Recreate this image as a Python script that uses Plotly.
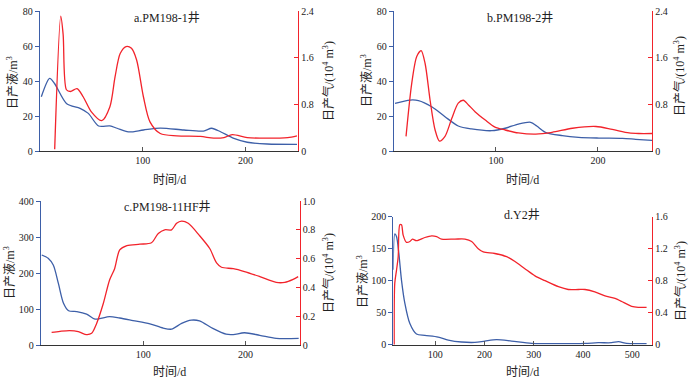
import plotly.graph_objects as go

# Panel a: PM198-1
a_liq_x = [1.3, 9.4, 14, 26, 39, 47, 57, 68, 75, 86, 100.6, 117, 140, 159, 167, 175.6, 188.6, 201.6, 221, 250]
a_liq_y = [31, 41.5, 38.7, 27, 24.4, 21.5, 14.3, 14.3, 13, 10.9, 12, 13.1, 12, 11.4, 13, 11, 7.2, 5, 4, 3.8]
a_gas_x = [14.3, 20.2, 22.5, 25.7, 29.6, 36, 42, 50, 60, 68, 73, 78, 83.7, 89, 94, 100.6, 107, 117, 133, 156, 169, 179, 187, 201.6, 221, 241, 250]
a_gas_y = [0.03, 2.31, 2.0, 1.05, 1.02, 1.07, 0.93, 0.67, 0.52, 0.76, 1.27, 1.67, 1.79, 1.76, 1.56, 0.93, 0.50, 0.30, 0.26, 0.25, 0.22, 0.23, 0.28, 0.23, 0.22, 0.23, 0.26]

# Panel b: PM198-2
b_liq_x = [1, 15.7, 24, 37, 50, 63, 76, 96, 109, 122, 134, 140, 148.5, 165, 181, 201, 224, 237, 253]
b_liq_y = [27.2, 29.1, 28.8, 25.3, 19.6, 14.3, 12.6, 11.6, 13, 15.4, 16.4, 14.3, 10.7, 8.8, 7.8, 7.4, 7.2, 6.7, 6.1]
b_gas_x = [11.8, 17.4, 22.3, 26.6, 30.5, 35.4, 40.3, 44.6, 50, 56.7, 63, 68, 73, 79.7, 89.5, 99, 109, 122, 139, 155, 175, 198, 214, 230.5, 240, 253]
b_gas_y = [0.25, 1.16, 1.62, 1.72, 1.50, 0.87, 0.36, 0.17, 0.25, 0.56, 0.82, 0.87, 0.79, 0.67, 0.53, 0.41, 0.36, 0.31, 0.29, 0.32, 0.39, 0.42, 0.37, 0.31, 0.30, 0.30]

# Panel c: PM198-11HF
c_liq_x = [0.7, 7, 12, 17, 22, 27, 35, 44.6, 52.8, 67, 77, 90, 106.5, 119.5, 127.7, 137.5, 147, 155, 168, 181, 188, 199, 214, 230, 252]
c_liq_y = [250, 241, 222, 171, 116, 95, 93, 86, 72, 79, 75, 68, 59, 47, 44, 60, 69, 67, 46, 30, 29, 34, 27, 18.5, 18.5]
c_gas_x = [10.4, 18.6, 28, 36.5, 44.6, 49.5, 54.4, 61, 67, 72, 77, 84, 96.7, 108, 114.7, 121, 127.7, 132.6, 137.5, 144, 155, 165, 171.7, 176.5, 188, 199, 214, 230, 238.4, 246.6, 251.5]
c_gas_y = [0.088, 0.095, 0.10, 0.093, 0.072, 0.081, 0.15, 0.29, 0.45, 0.53, 0.66, 0.69, 0.70, 0.71, 0.775, 0.80, 0.80, 0.845, 0.86, 0.845, 0.76, 0.67, 0.57, 0.54, 0.53, 0.51, 0.475, 0.435, 0.435, 0.456, 0.475]

# Panel d: Y2
d_liq_x = [14.7, 18.1, 21.5, 26.2, 31.6, 38.4, 48.6, 62, 79, 106, 126.6, 153.5, 180.6, 200.9, 224.5, 255, 296, 356.6, 404, 431, 458, 472, 488.6, 512, 529]
d_liq_y = [117, 173, 169, 143, 101, 65, 33, 16.7, 14.6, 12, 7.3, 4.2, 3.6, 5.7, 7.8, 5.7, 2.1, 1.6, 2.1, 3.1, 3.1, 4.7, 2.1, 1.6, 1.6]
d_gas_x = [16.8, 18, 21.5, 24.9, 28.3, 31.6, 35, 41.7, 48.6, 54, 62, 79, 93, 103, 113, 140, 160.5, 174, 187.4, 197.6, 221, 245, 262, 282, 302.5, 323, 350, 370, 390.5, 404, 424, 444.6, 465, 478.5, 498.7, 512, 529]
d_gas_y = [0, 0.77, 0.93, 1.1, 1.50, 1.50, 1.37, 1.28, 1.29, 1.32, 1.30, 1.34, 1.36, 1.35, 1.32, 1.32, 1.32, 1.29, 1.20, 1.16, 1.14, 1.10, 1.04, 0.95, 0.86, 0.80, 0.725, 0.69, 0.69, 0.69, 0.66, 0.61, 0.58, 0.54, 0.48, 0.467, 0.467]

titles = ["a.PM198-1井", "b.PM198-2井", "c.PM198-11HF井", "d.Y2井"]
left_ticks = [[0, 20, 40, 60, 80], [0, 20, 40, 60, 80], [0, 100, 200, 300, 400], [0, 50, 100, 150, 200]]
right_ticks = [[0, 0.8, 1.6, 2.4], [0, 0.8, 1.6, 2.4], [0, 0.2, 0.4, 0.6, 0.8, 1.0], [0, 0.4, 0.8, 1.2, 1.6]]
right_ticktext = [["0", "0.8", "1.6", "2.4"], ["0", "0.8", "1.6", "2.4"], ["0", "0.2", "0.4", "0.6", "0.8", "1.0"], ["0", "0.4", "0.8", "1.2", "1.6"]]
x_ticks = [[100, 200], [100, 200], [100, 200], [100, 200, 300, 400, 500]]
x_ranges = [[0, 251], [0, 253], [0, 253], [15, 540]]

W, H = 689, 379
BLUE = "#3d5fa8"
RED = "#f2232b"
FONT = "Liberation Serif, Noto Sans CJK SC, serif"
TXT = "#222"

# pixel boxes: (x0, x1, ytop, ybottom)
boxes = [(40, 298, 11, 151), (394, 652, 11, 151), (41, 299.7, 201, 345), (393.3, 652, 216.7, 344.7)]

data = [(a_liq_x, a_liq_y, a_gas_x, a_gas_y), (b_liq_x, b_liq_y, b_gas_x, b_gas_y),
        (c_liq_x, c_liq_y, c_gas_x, c_gas_y), (d_liq_x, d_liq_y, d_gas_x, d_gas_y)]

fig = go.Figure()
layout = {}
annotations = []
for i, (lx, ly, gx, gy) in enumerate(data):
    xa = f"x{'' if i == 0 else i + 1}"
    yl = f"y{'' if i == 0 else 2 * i + 1}"
    yr = f"y{2 * i + 2}"
    xname = f"xaxis{'' if i == 0 else i + 1}"
    ylname = f"yaxis{'' if i == 0 else 2 * i + 1}"
    yrname = f"yaxis{2 * i + 2}"
    x0, x1, yt, yb = boxes[i]
    fig.add_trace(go.Scatter(x=lx, y=ly, mode="lines", line=dict(color=BLUE, width=1.3, shape="spline", smoothing=0.8),
                             xaxis=xa, yaxis=yl, showlegend=False, hoverinfo="skip"))
    fig.add_trace(go.Scatter(x=gx, y=gy, mode="lines", line=dict(color=RED, width=1.3, shape="spline", smoothing=0.8),
                             xaxis=xa, yaxis=yr, showlegend=False, hoverinfo="skip"))
    layout[xname] = dict(domain=[x0 / W, x1 / W], range=x_ranges[i], anchor=yl, showgrid=False, zeroline=False,
                         showline=True, linecolor="#333", linewidth=1, ticks="inside", ticklen=4, tickcolor="#555",
                         tickvals=x_ticks[i], tickfont=dict(family=FONT, size=10, color=TXT))
    ymax = left_ticks[i][-1]
    layout[ylname] = dict(domain=[(H - yb) / H, (H - yt) / H], range=[0, ymax], anchor=xa, showgrid=False,
                          zeroline=False, showline=True, linecolor=BLUE, linewidth=1.3, ticks="outside", ticklen=4,
                          tickcolor=BLUE, tickvals=left_ticks[i], tickfont=dict(family=FONT, size=10, color=TXT))
    layout[yrname] = dict(range=[0, right_ticks[i][-1]], overlaying=yl, anchor=xa, side="right", showgrid=False,
                          zeroline=False, showline=True, linecolor=RED, linewidth=1.3, ticks="inside", ticklen=4,
                          tickcolor=RED, tickvals=right_ticks[i], ticktext=right_ticktext[i],
                          tickfont=dict(family=FONT, size=10, color=TXT))

title_pos = [(167, 18), (520, 18), (167, 207), (522, 215)]
xt_pos = [(169, 180), (522, 180), (169, 372), (522, 372)]
lt_pos = [(13, 83), (366, 81), (9, 273), (362, 281)]
rt_pos = [(328, 81), (680, 76), (328, 273), (680, 281)]
for i in range(4):
    annotations.append(dict(text=titles[i], x=title_pos[i][0] / W, y=1 - title_pos[i][1] / H, xref="paper", yref="paper",
                            showarrow=False, font=dict(family=FONT, size=12, color=TXT), xanchor="center", yanchor="middle"))
    annotations.append(dict(text="时间/d", x=xt_pos[i][0] / W, y=1 - xt_pos[i][1] / H, xref="paper", yref="paper",
                            showarrow=False, font=dict(family=FONT, size=12, color=TXT), xanchor="center", yanchor="middle"))
    annotations.append(dict(text="日产液/m<sup>3</sup>", x=lt_pos[i][0] / W, y=1 - lt_pos[i][1] / H, xref="paper", yref="paper",
                            showarrow=False, textangle=-90, font=dict(family=FONT, size=12, color=TXT),
                            xanchor="center", yanchor="middle"))
    annotations.append(dict(text="日产气/(10<sup>4</sup> m<sup>3</sup>)", x=rt_pos[i][0] / W, y=1 - rt_pos[i][1] / H,
                            xref="paper", yref="paper", showarrow=False, textangle=-90,
                            font=dict(family=FONT, size=12, color=TXT), xanchor="center", yanchor="middle"))

fig.update_layout(**layout)
fig.update_layout(width=W, height=H, margin=dict(l=0, r=0, t=0, b=0, autoexpand=False), paper_bgcolor="white",
                  plot_bgcolor="white", annotations=annotations, showlegend=False)
fig.write_html("out.html", config={"displayModeBar": False},
               post_script="document.body.style.margin='0';document.body.style.padding='0';")
